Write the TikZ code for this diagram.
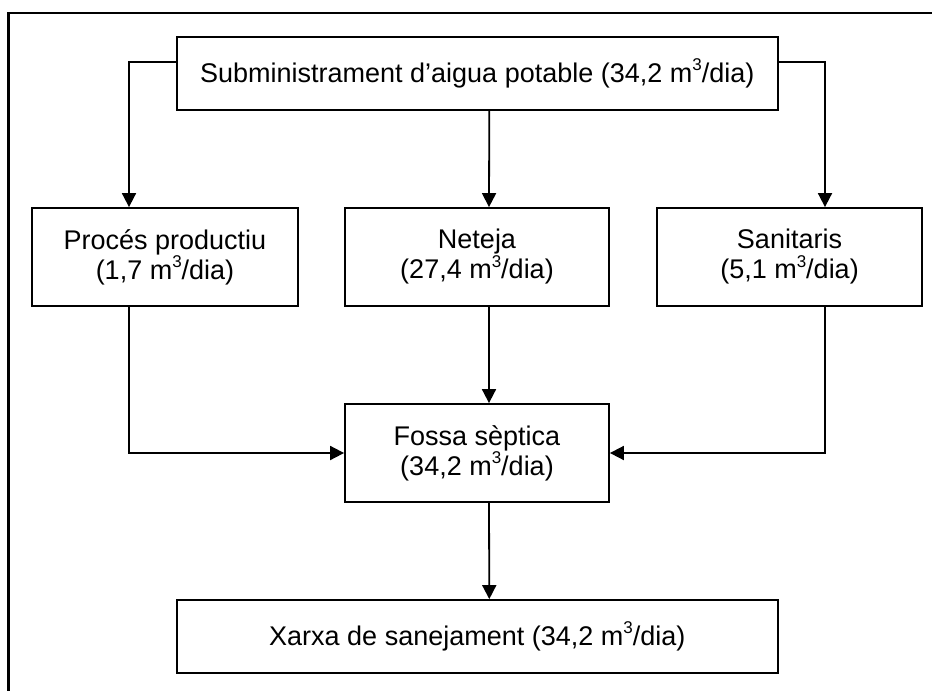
\documentclass[tikz,border=0pt]{standalone}
\usepackage{fontspec}
\setmainfont{Liberation Sans}
\usetikzlibrary{arrows.meta}
\tikzset{
  box/.style={draw, line width=1.8pt, rectangle, align=center, inner sep=0pt,
    font=\fontsize{27}{30}\selectfont},
  flow/.style={draw, line width=1.8pt, -{Triangle[length=14pt,width=14pt]}},
  frame/.style={line width=2.8pt}
}
\newcommand{\mcub}{m\raisebox{0.42em}{\fontsize{17}{17}\selectfont 3}}
\begin{document}
\begin{tikzpicture}[x=1pt,y=-1pt]
\useasboundingbox (0,0) rectangle (932,691);
% outer frame (top and left sides)
\draw[frame] (932,13) -- (8.5,13) -- (8.5,691);
% boxes
\node[box, minimum width=601pt, minimum height=73pt] (top) at (477.3,73.5)
  {Subministrament d’aigua potable (34,2 \mcub/dia)};
\node[box, minimum width=266pt, minimum height=98pt] (proc) at (165,257)
  {Procés productiu\\(1,7 \mcub/dia)};
\node[box, minimum width=264pt, minimum height=98pt] (net) at (477,257)
  {Neteja\\(27,4 \mcub/dia)};
\node[box, minimum width=265pt, minimum height=98pt] (san) at (789.5,257)
  {Sanitaris\\(5,1 \mcub/dia)};
\node[box, minimum width=264pt, minimum height=98pt] (fossa) at (477,453)
  {Fossa sèptica\\(34,2 \mcub/dia)};
\node[box, minimum width=601pt, minimum height=73pt] (xarxa) at (477.3,636.5)
  {Xarxa de sanejament (34,2 \mcub/dia)};
% connectors
\draw[flow] ([yshift=11.8pt]top.west) -| ([xshift=-36pt]proc.north);
\draw[flow] ([yshift=11.8pt]top.east) -| ([xshift=35.5pt]san.north);
\draw[flow] ([xshift=12pt]top.south) -- ([xshift=12pt]net.north);
\draw[flow] ([xshift=12pt]net.south) -- ([xshift=12pt]fossa.north);
\draw[flow] ([xshift=-36pt]proc.south) |- (fossa.west);
\draw[flow] ([xshift=35.5pt]san.south) |- (fossa.east);
\draw[flow] ([xshift=12pt]fossa.south) -- ([xshift=12pt]xarxa.north);
\end{tikzpicture}
\end{document}
